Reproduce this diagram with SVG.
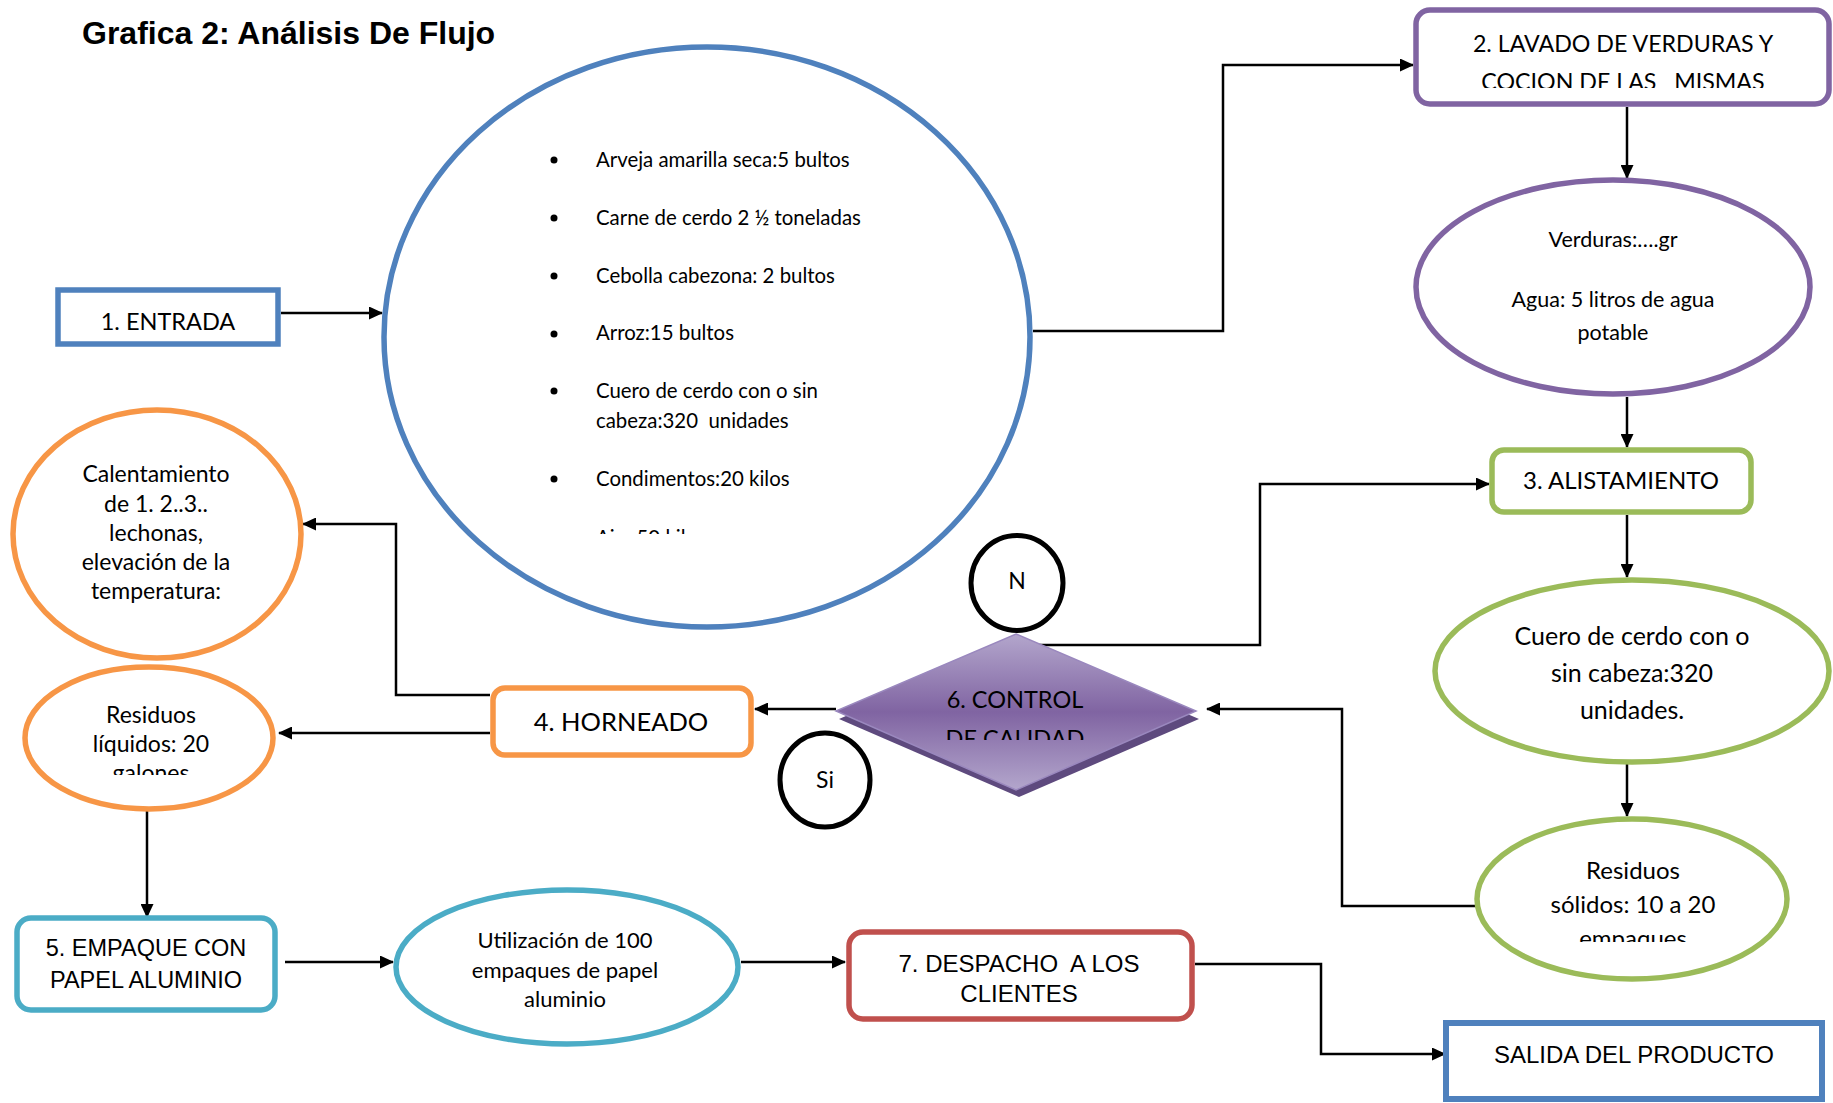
<svg xmlns="http://www.w3.org/2000/svg" width="1833" height="1103" viewBox="0 0 1833 1103">
<style>
  .bg { fill: #ffffff; }
  .title { font-family: "Liberation Sans", Arial, sans-serif; font-weight: bold; font-size: 32px; fill: #000; }
  .cal { font-family: "Lato", "Liberation Sans", sans-serif; fill: #000; text-anchor: middle; }
  .ari { font-family: "Liberation Sans", Arial, sans-serif; fill: #000; text-anchor: middle; }
  .list { font-family: "Lato", "Liberation Sans", sans-serif; fill: #000; font-size: 20.4px; }
  .blue { fill: #fff; stroke: #4F81BD; stroke-width: 5.5; }
  .purple { fill: #fff; stroke: #8064A2; stroke-width: 5.5; }
  .green { fill: #fff; stroke: #9BBB59; stroke-width: 5.5; }
  .orange { fill: #fff; stroke: #F79646; stroke-width: 5.5; }
  .cyan { fill: #fff; stroke: #4BACC6; stroke-width: 5.5; }
  .red { fill: #fff; stroke: #C0504D; stroke-width: 5.5; }
  .ring { fill: #fff; stroke: #000; stroke-width: 5; }
  .conn { fill: none; stroke: #000; stroke-width: 2.5; marker-end: url(#arrow); }
</style>
<defs>
  <marker id="arrow" markerUnits="userSpaceOnUse" markerWidth="14" markerHeight="13" refX="13" refY="6.5" orient="auto">
    <path d="M0,0 L14,6.5 L0,13 z" fill="#000"/>
  </marker>
  <linearGradient id="dgrad" x1="0" y1="0" x2="0" y2="1">
    <stop offset="0" stop-color="#B3A6CC"/>
    <stop offset="0.5" stop-color="#8064A2"/>
    <stop offset="1" stop-color="#B3A6CC"/>
  </linearGradient>
  <clipPath id="clipList"><rect x="540" y="100" width="400" height="434"/></clipPath>
  <clipPath id="clipBox2"><rect x="1420" y="14" width="405" height="74"/></clipPath>
  <clipPath id="clipDiamond"><rect x="880" y="680" width="270" height="60"/></clipPath>
  <clipPath id="clipLiq"><rect x="30" y="695" width="240" height="80"/></clipPath>
  <clipPath id="clipSol"><rect x="1490" y="850" width="290" height="92"/></clipPath>
</defs>
<rect class="bg" x="0" y="0" width="1833" height="1103"/>

<text class="title" x="82" y="44">Grafica 2: Análisis De Flujo</text>

<g id="connectors">
  <path class="conn" d="M281,313 L382,313"/>
  <path class="conn" d="M1033,331 L1223,331 L1223,65 L1413,65"/>
  <path class="conn" d="M1627,107 L1627,178"/>
  <path class="conn" d="M1627,397 L1627,447"/>
  <path class="conn" d="M1627,515 L1627,577"/>
  <path class="conn" d="M1627,749 L1627,816"/>
  <path class="conn" d="M1475,906 L1342,906 L1342,709 L1207,709"/>
  <path class="conn" d="M1032,645 L1260,645 L1260,484 L1489,484"/>
  <path class="conn" d="M836,709 L755,709"/>
  <path class="conn" d="M490,695 L396,695 L396,524 L303,524"/>
  <path class="conn" d="M490,733 L279,733"/>
  <path class="conn" d="M147,802 L147,917"/>
  <path class="conn" d="M285,962 L393,962"/>
  <path class="conn" d="M741,962 L845,962"/>
  <path class="conn" d="M1195,964 L1321,964 L1321,1054 L1445,1054"/>
</g>

<g id="entrada">
  <rect class="blue" x="58" y="290" width="220" height="54"/>
  <text class="cal" x="168" y="330" font-size="23.5">1. ENTRADA</text>
</g>

<g id="insumos">
  <ellipse class="blue" cx="707" cy="337" rx="323" ry="290"/>
  <g fill="#000">
    <circle cx="554" cy="160" r="3.5"/>
    <circle cx="554" cy="218" r="3.5"/>
    <circle cx="554" cy="276" r="3.5"/>
    <circle cx="554" cy="334" r="3.5"/>
    <circle cx="554" cy="391" r="3.5"/>
    <circle cx="554" cy="479" r="3.5"/>
  </g>
  <g clip-path="url(#clipList)">
    <text class="list" x="596" y="167">Arveja amarilla seca:5 bultos</text>
    <text class="list" x="596" y="225">Carne de cerdo 2 ½ toneladas</text>
    <text class="list" x="596" y="283">Cebolla cabezona: 2 bultos</text>
    <text class="list" x="596" y="340">Arroz:15 bultos</text>
    <text class="list" x="596" y="398">Cuero de cerdo con o sin</text>
    <text class="list" x="596" y="428" xml:space="preserve">cabeza:320  unidades</text>
    <text class="list" x="596" y="486">Condimentos:20 kilos</text>
    <text class="list" x="596" y="545">Ajo: 50 kilos</text>
  </g>
</g>

<g id="lavado">
  <rect class="purple" x="1416" y="10" width="413" height="94" rx="14"/>
  <g clip-path="url(#clipBox2)">
    <text class="cal" x="1623" y="52" font-size="23.2">2. LAVADO DE VERDURAS Y</text>
    <text class="cal" x="1623" y="90" font-size="23.2" xml:space="preserve">COCION DE LAS   MISMAS</text>
  </g>
</g>

<g id="verduras">
  <ellipse class="purple" cx="1613" cy="287" rx="197" ry="107"/>
  <text class="cal" x="1613" y="247" font-size="21.5">Verduras:….gr</text>
  <text class="cal" x="1613" y="307" font-size="21.5">Agua: 5 litros de agua</text>
  <text class="cal" x="1613" y="340" font-size="21.5">potable</text>
</g>

<g id="alistamiento">
  <rect class="green" x="1492" y="450" width="259" height="62" rx="12"/>
  <text class="cal" x="1621" y="489" font-size="24">3. ALISTAMIENTO</text>
</g>

<g id="cuero">
  <ellipse class="green" cx="1632" cy="671" rx="197" ry="91"/>
  <text class="cal" x="1632" y="645" font-size="25">Cuero de cerdo con o</text>
  <text class="cal" x="1632" y="682" font-size="25">sin cabeza:320</text>
  <text class="cal" x="1632" y="719" font-size="25">unidades.</text>
</g>

<g id="residuos-solidos">
  <ellipse class="green" cx="1632" cy="899" rx="155" ry="80"/>
  <g clip-path="url(#clipSol)">
    <text class="cal" x="1633" y="879" font-size="24">Residuos</text>
    <text class="cal" x="1633" y="913" font-size="24">sólidos: 10 a 20</text>
    <text class="cal" x="1633" y="947" font-size="24">empaques</text>
  </g>
</g>

<g id="control">
  <polygon points="1019,641 1199,719 1019,797 839,719" fill="#5E4A7E"/>
  <polygon points="1016,634 1196,711 1016,790 836,711" fill="url(#dgrad)" stroke="#9A88BE" stroke-width="1.5"/>
  <text class="cal" x="1015" y="708" font-size="23.5">6. CONTROL</text>
  <g clip-path="url(#clipDiamond)">
    <text class="cal" x="1015" y="747" font-size="23.5">DE CALIDAD</text>
  </g>
</g>

<g id="n-label">
  <ellipse class="ring" cx="1017" cy="583" rx="46" ry="47.5"/>
  <text class="cal" x="1017" y="589" font-size="23">N</text>
</g>

<g id="si-label">
  <ellipse class="ring" cx="825" cy="780" rx="45" ry="47"/>
  <text class="cal" x="825" y="788" font-size="23">Si</text>
</g>

<g id="horneado">
  <rect class="orange" x="493" y="688" width="258" height="67" rx="12"/>
  <text class="cal" x="621" y="731" font-size="25.5">4. HORNEADO</text>
</g>

<g id="calentamiento">
  <ellipse class="orange" cx="157" cy="534" rx="144" ry="124"/>
  <text class="cal" x="156" y="482" font-size="23">Calentamiento</text>
  <text class="cal" x="156" y="512" font-size="23">de 1. 2..3..</text>
  <text class="cal" x="156" y="541" font-size="23">lechonas,</text>
  <text class="cal" x="156" y="570" font-size="23">elevación de la</text>
  <text class="cal" x="156" y="599" font-size="23">temperatura:</text>
</g>

<g id="residuos-liquidos">
  <ellipse class="orange" cx="149" cy="738" rx="124" ry="71"/>
  <g clip-path="url(#clipLiq)">
    <text class="cal" x="151" y="723" font-size="23">Residuos</text>
    <text class="cal" x="151" y="752" font-size="23">líquidos: 20</text>
    <text class="cal" x="151" y="781" font-size="23">galones</text>
  </g>
</g>

<g id="empaque">
  <rect class="cyan" x="17" y="918" width="258" height="92" rx="14"/>
  <text class="ari" x="146" y="956" font-size="23.5">5. EMPAQUE CON</text>
  <text class="ari" x="146" y="988" font-size="23.5">PAPEL ALUMINIO</text>
</g>

<g id="utilizacion">
  <ellipse class="cyan" cx="567" cy="967" rx="171" ry="77"/>
  <text class="cal" x="565" y="948" font-size="22">Utilización de 100</text>
  <text class="cal" x="565" y="978" font-size="22">empaques de papel</text>
  <text class="cal" x="565" y="1007" font-size="22">aluminio</text>
</g>

<g id="despacho">
  <rect class="red" x="849" y="932" width="343" height="87" rx="14"/>
  <text class="ari" x="1019" y="972" font-size="24" xml:space="preserve">7. DESPACHO  A LOS</text>
  <text class="ari" x="1019" y="1002" font-size="24">CLIENTES</text>
</g>

<g id="salida">
  <rect x="1446" y="1023" width="376" height="76" fill="#fff" stroke="#4F81BD" stroke-width="6"/>
  <text class="ari" x="1634" y="1063" font-size="24">SALIDA DEL PRODUCTO</text>
</g>
</svg>
